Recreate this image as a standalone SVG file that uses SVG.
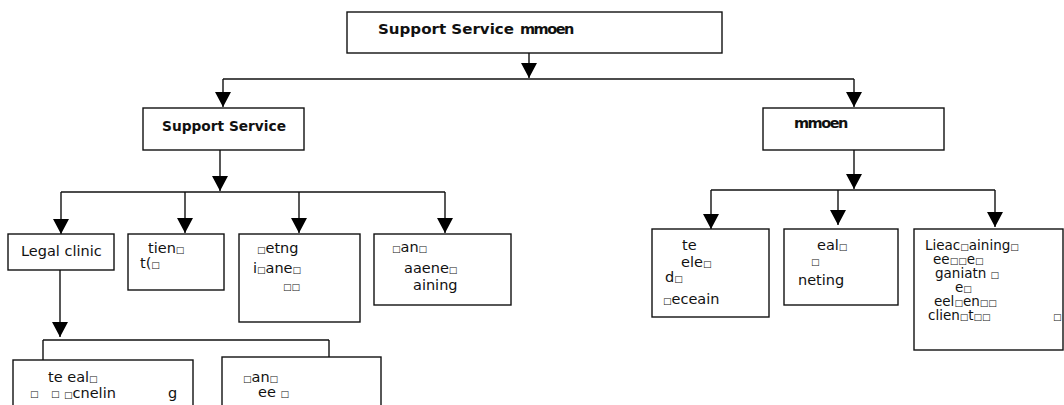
<svg xmlns="http://www.w3.org/2000/svg" width="1064" height="405" viewBox="0 0 1064 405">
<style>
.box{fill:#fff;stroke:#111;stroke-width:1.4}
.ln{fill:none;stroke:#111;stroke-width:1.4}
.arr{marker-end:url(#ah)}
text{font-family:"DejaVu Sans","Liberation Sans",sans-serif;fill:#111;font-size:14.5px}
.b{font-weight:bold}
.g{letter-spacing:-1.5px}
.sq{font-size:9px}
.r3{font-size:13.5px}
</style>
<defs>
<marker id="ah" markerUnits="userSpaceOnUse" markerWidth="16" markerHeight="16" refX="15" refY="8" orient="auto">
<path d="M0,0 L15,8 L0,16 z" fill="#000"/>
</marker>
</defs>
<g id="connectors">
<path class="ln arr" d="M529,53 V78"/>
<path class="ln" d="M223,79 H854"/>
<path class="ln arr" d="M223,79 V107"/>
<path class="ln arr" d="M854,79 V107"/>
<path class="ln arr" d="M220,150 V191"/>
<path class="ln" d="M61,192 H445"/>
<path class="ln arr" d="M61,192 V234"/>
<path class="ln arr" d="M185,192 V233"/>
<path class="ln arr" d="M299,192 V233"/>
<path class="ln arr" d="M445,192 V233"/>
<path class="ln arr" d="M854,150 V189"/>
<path class="ln" d="M711,190 H995"/>
<path class="ln arr" d="M711,190 V229"/>
<path class="ln arr" d="M838,190 V225"/>
<path class="ln arr" d="M995,190 V227"/>
<path class="ln arr" d="M60,270 V337"/>
<path class="ln" d="M43,340 H329"/>
<path class="ln" d="M43,340 V360"/>
<path class="ln" d="M329,340 V357"/>
</g>
<g id="n-top">
<rect class="box" x="347" y="12" width="375" height="41"/>
<text class="b" x="378" y="34" textLength="136" lengthAdjust="spacingAndGlyphs">Support Service</text>
<text class="b g" x="520" y="34" font-size="14">mmoen</text>
</g>
<g id="n-support">
<rect class="box" x="143" y="108" width="161" height="42"/>
<text class="b" x="162" y="131" textLength="124" lengthAdjust="spacingAndGlyphs">Support Service</text>
</g>
<g id="n-right">
<rect class="box" x="763" y="108" width="181" height="42"/>
<text class="b g" x="794" y="128" font-size="13">mmoen</text>
</g>
<g id="n-legal">
<rect class="box" x="8" y="234" width="106" height="36"/>
<text x="21" y="256" font-size="15">Legal clinic</text>
</g>
<g id="n-client">
<rect class="box" x="128" y="234" width="96" height="56"/>
<text x="148" y="253">tien<tspan class="sq">□</tspan></text>
<text x="140" y="268">t(<tspan class="sq">□</tspan></text>
</g>
<g id="n-3">
<rect class="box" x="239" y="234" width="121" height="88"/>
<text x="257" y="253"><tspan class="sq">□</tspan>etng</text>
<text x="253" y="273">i<tspan class="sq">□</tspan>ane<tspan class="sq">□</tspan></text>
<text x="283" y="290" class="sq">□□</text>
</g>
<g id="n-4">
<rect class="box" x="374" y="234" width="137" height="71"/>
<text x="392" y="252"><tspan class="sq">□</tspan>an<tspan class="sq">□</tspan></text>
<text x="404" y="273">aaene<tspan class="sq">□</tspan></text>
<text x="413" y="290">aining</text>
</g>
<g id="n-r1">
<rect class="box" x="652" y="229" width="117" height="88"/>
<text x="682" y="250">te</text>
<text x="681" y="267">ele<tspan class="sq">□</tspan></text>
<text x="665" y="282">d<tspan class="sq">□</tspan></text>
<text x="663" y="304"><tspan class="sq">□</tspan>eceain</text>
</g>
<g id="n-r2">
<rect class="box" x="784" y="229" width="114" height="76"/>
<text x="817" y="250">eal<tspan class="sq">□</tspan></text>
<text x="811" y="265" class="sq">□</text>
<text x="798" y="285">neting</text>
</g>
<g id="n-r3">
<rect class="box" x="914" y="229" width="149" height="121"/>
<text class="r3" x="925" y="250">Lieac<tspan class="sq">□</tspan>aining<tspan class="sq">□</tspan></text>
<text class="r3" x="933" y="264">ee<tspan class="sq">□□</tspan>e<tspan class="sq">□</tspan></text>
<text class="r3" x="935" y="278">ganiatn <tspan class="sq">□</tspan></text>
<text class="r3" x="955" y="292">e<tspan class="sq">□</tspan></text>
<text class="r3" x="934" y="306">eel<tspan class="sq">□</tspan>en<tspan class="sq">□□</tspan></text>
<text class="r3" x="928" y="320">clien<tspan class="sq">□</tspan>t<tspan class="sq">□□</tspan></text>
<text class="sq" x="1053" y="320">□</text>
</g>
<g id="n-b1">
<rect class="box" x="13" y="360" width="180" height="60"/>
<text x="48" y="382">te eal<tspan class="sq">□</tspan></text>
<text class="sq" x="30" y="397">□</text>
<text class="sq" x="51" y="397">□</text>
<text x="64" y="398"><tspan class="sq">□</tspan>cnelin</text>
<text x="168" y="398">g</text>
</g>
<g id="n-b2">
<rect class="box" x="222" y="357" width="159" height="63"/>
<text x="243" y="382"><tspan class="sq">□</tspan>an<tspan class="sq">□</tspan></text>
<text x="258" y="397">ee <tspan class="sq">□</tspan></text>
</g>
</svg>
